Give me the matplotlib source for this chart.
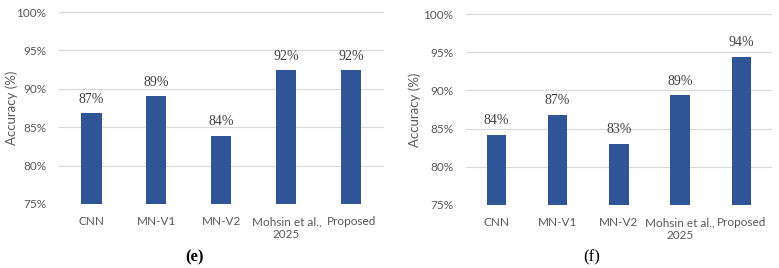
import matplotlib.pyplot as plt
import numpy as np

# data
models = ["CNN", "MN-V1", "MN-V2", "Mohsin et al.,\n2025", "Proposed"]
acc_e = [86.8, 89.0, 83.9, 92.4, 92.4]
acc_f = [84.2, 86.8, 83.0, 89.35, 94.45]
labels_e = ["87%", "89%", "84%", "92%", "92%"]
labels_f = ["84%", "87%", "83%", "89%", "94%"]
yticks = [75, 80, 85, 90, 95, 100]

bar_col = "#2F5597"
grid_col = "#D9D9D9"
txt_col = "#595959"

plt.rcParams['font.family'] = ['Lato', 'DejaVu Sans']

fig = plt.figure(figsize=(7.79, 2.68), dpi=100)
ax1 = fig.add_axes([0.0757, 0.239, 0.417, 0.716])
ax2 = fig.add_axes([0.598, 0.236, 0.393, 0.711])


def draw(ax, vals, labs, width, ylab_x):
    x = np.arange(len(models))
    ax.bar(x, vals, width=width, color=bar_col, zorder=3)
    for xi, v, l in zip(x, vals, labs):
        ax.text(xi, v + 1.0, l, ha="center", va="bottom", fontsize=10,
                family="Liberation Serif", color="#404040")
    ax.set_ylim(75, 100)
    ax.set_xlim(-0.5, len(models) - 0.5)
    ax.set_yticks(yticks)
    ax.set_yticklabels([f"{t}%" for t in yticks])
    ax.set_xticks(x)
    ax.set_xticklabels(models)
    ax.yaxis.grid(True, color=grid_col, linewidth=0.8, zorder=0)
    ax.tick_params(length=0, labelsize=8.5, colors=txt_col)
    ax.tick_params(axis="y", pad=9)
    ax.tick_params(axis="x", pad=9)
    for s in ax.spines.values():
        s.set_visible(False)
    ax.set_ylabel("Accuracy (%)", fontsize=9.5, color=txt_col)
    ax.yaxis.set_label_coords(ylab_x, 0.5)


draw(ax1, acc_e, labels_e, 0.31, -0.125)
draw(ax2, acc_f, labels_f, 0.32, -0.147)

fig.text(195 / 779, 1 - 257 / 268, "(e)", ha="center", va="center",
         fontsize=12, fontweight="bold", family="Liberation Serif")
fig.text(592 / 779, 1 - 257 / 268, "(f)", ha="center", va="center",
         fontsize=12, family="Liberation Serif")

plt.savefig("out.png", dpi=100)
